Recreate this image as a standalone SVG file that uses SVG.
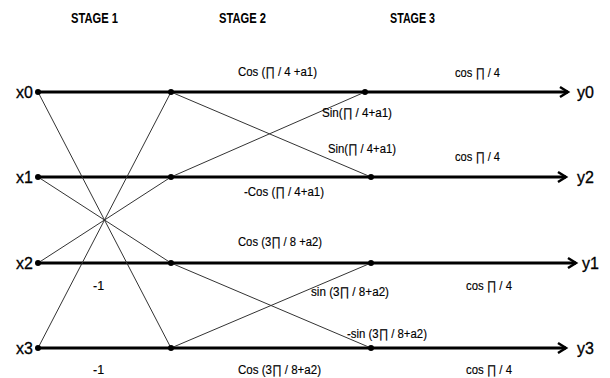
<svg xmlns="http://www.w3.org/2000/svg" width="610" height="378" viewBox="0 0 610 378">
<style>
.hdr{font-family:"Liberation Sans",Arial,sans-serif;font-weight:bold;font-size:15px;fill:#000}
.io{font-family:"Liberation Sans",Arial,sans-serif;font-size:16px;fill:#000;stroke:#000;stroke-width:0.3}
.lbl{font-family:"Liberation Sans",Arial,sans-serif;font-size:12.5px;fill:#000;stroke:#000;stroke-width:0.15}
.bus{stroke:#000;stroke-width:3;fill:none}
.thin{stroke:#333;stroke-width:1;fill:none}
.arr{stroke:#000;stroke-width:2.5;fill:none;stroke-linejoin:miter}
.dot{fill:#000}
</style>
<rect width="610" height="378" fill="#fff"/>
<g id="headers">
<text class="hdr" x="71" y="23" textLength="47" lengthAdjust="spacingAndGlyphs">STAGE 1</text>
<text class="hdr" x="219" y="23" textLength="47" lengthAdjust="spacingAndGlyphs">STAGE 2</text>
<text class="hdr" x="390" y="23" textLength="45" lengthAdjust="spacingAndGlyphs">STAGE 3</text>
</g>
<g id="connectors">
<line class="bus" x1="38" y1="92" x2="568" y2="92"/>
<polyline class="arr" points="560,87 568,92 560,97"/>
<line class="bus" x1="38" y1="177" x2="566" y2="177"/>
<polyline class="arr" points="558,172 566,177 558,182"/>
<line class="bus" x1="38" y1="263" x2="576" y2="263"/>
<polyline class="arr" points="568,258 576,263 568,268"/>
<line class="bus" x1="38" y1="348" x2="566" y2="348"/>
<polyline class="arr" points="558,343 566,348 558,353"/>
<line class="thin" x1="38" y1="92" x2="171" y2="348"/>
<line class="thin" x1="38" y1="177" x2="171" y2="263"/>
<line class="thin" x1="38" y1="263" x2="171" y2="177"/>
<line class="thin" x1="38" y1="348" x2="171" y2="92"/>
<line class="thin" x1="171" y1="92" x2="371" y2="177"/>
<line class="thin" x1="171" y1="177" x2="365" y2="92"/>
<line class="thin" x1="171" y1="263" x2="371" y2="348"/>
<line class="thin" x1="171" y1="348" x2="371" y2="263"/>
</g>
<g id="nodes-in">
<g id="x0"><circle class="dot" cx="38" cy="92" r="3"/><text class="io" x="16" y="98">x0</text></g>
<g id="x1"><circle class="dot" cx="38" cy="177" r="3"/><text class="io" x="16" y="183">x1</text></g>
<g id="x2"><circle class="dot" cx="38" cy="263" r="3"/><text class="io" x="16" y="269">x2</text></g>
<g id="x3"><circle class="dot" cx="38" cy="348" r="3"/><text class="io" x="16" y="354">x3</text></g>
</g>
<g id="nodes-stage2">
<g id="s2n0"><circle class="dot" cx="171" cy="92" r="3"/></g>
<g id="s2n1"><circle class="dot" cx="171" cy="177" r="3"/></g>
<g id="s2n2"><circle class="dot" cx="171" cy="263" r="3"/></g>
<g id="s2n3"><circle class="dot" cx="171" cy="348" r="3"/></g>
</g>
<g id="nodes-stage3">
<g id="s3n0"><circle class="dot" cx="365" cy="92" r="3"/></g>
<g id="s3n1"><circle class="dot" cx="371" cy="177" r="3"/></g>
<g id="s3n2"><circle class="dot" cx="371" cy="263" r="3"/></g>
<g id="s3n3"><circle class="dot" cx="371" cy="348" r="3"/></g>
</g>
<g id="outputs">
<g id="y0"><text class="io" x="577" y="98">y0</text></g>
<g id="y2"><text class="io" x="577" y="183">y2</text></g>
<g id="y1"><text class="io" x="582" y="269">y1</text></g>
<g id="y3"><text class="io" x="577" y="354">y3</text></g>
</g>
<g id="labels">
<text class="lbl" x="238" y="76" textLength="79" lengthAdjust="spacingAndGlyphs">Cos (∏ / 4 +a1)</text>
<text class="lbl" x="322" y="117" textLength="70" lengthAdjust="spacingAndGlyphs">Sin(∏ / 4+a1)</text>
<text class="lbl" x="328" y="153" textLength="68" lengthAdjust="spacingAndGlyphs">Sin(∏ / 4+a1)</text>
<text class="lbl" x="244" y="196" textLength="80" lengthAdjust="spacingAndGlyphs">-Cos (∏ / 4+a1)</text>
<text class="lbl" x="455" y="77" textLength="45" lengthAdjust="spacingAndGlyphs">cos ∏ / 4</text>
<text class="lbl" x="455" y="161" textLength="45" lengthAdjust="spacingAndGlyphs">cos ∏ / 4</text>
<text class="lbl" x="238" y="246" textLength="84" lengthAdjust="spacingAndGlyphs">Cos (3∏ / 8 +a2)</text>
<text class="lbl" x="311" y="296" textLength="78" lengthAdjust="spacingAndGlyphs">sin (3∏ / 8+a2)</text>
<text class="lbl" x="347" y="338" textLength="80" lengthAdjust="spacingAndGlyphs">-sin (3∏ / 8+a2)</text>
<text class="lbl" x="238" y="374" textLength="83" lengthAdjust="spacingAndGlyphs">Cos (3∏ / 8+a2)</text>
<text class="lbl" x="466" y="290" textLength="46" lengthAdjust="spacingAndGlyphs">cos ∏ / 4</text>
<text class="lbl" x="466" y="374" textLength="46" lengthAdjust="spacingAndGlyphs">cos ∏ / 4</text>
<text class="lbl" x="93" y="290">-1</text>
<text class="lbl" x="93" y="374">-1</text>
</g>
</svg>
